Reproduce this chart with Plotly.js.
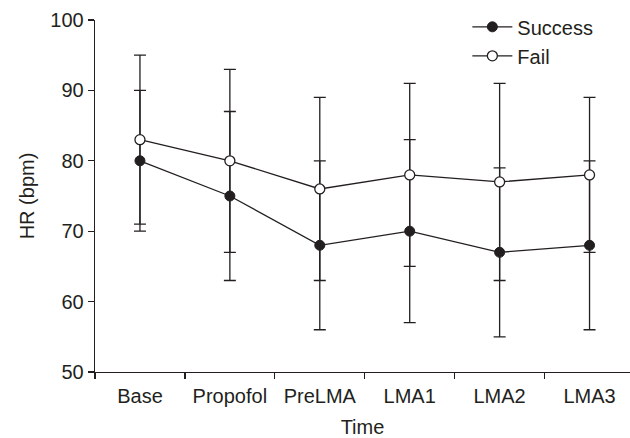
<!DOCTYPE html>
<html>
<head>
<meta charset="utf-8">
<script src="https://cdn.plot.ly/plotly-3.0.1.min.js"></script>
<style>html,body{margin:0;padding:0;background:#fff;}#chart{width:630px;height:438px;}</style>
</head>
<body>
<div id="chart"></div>
<script>
var categories = ["Base", "Propofol", "PreLMA", "LMA1", "LMA2", "LMA3"];
var successMean = [80, 75, 68, 70, 67, 68];
var successSD = [10, 12, 12, 13, 12, 12];
var failMean = [83, 80, 76, 78, 77, 78];
var failSD = [12, 13, 13, 13, 14, 11];
var yTicks = [50, 60, 70, 80, 90, 100];

var ink = "#231f20";
var fam = "Liberation Sans, Arial, sans-serif";
var font = {family: fam, size: 20, color: ink};

var traces = [
  {
    name: "Success", x: categories, y: successMean, type: "scatter", mode: "lines+markers",
    line: {color: ink, width: 1.3},
    marker: {color: ink, size: 10, line: {color: ink, width: 1}},
    error_y: {type: "data", array: successSD, visible: true, color: ink, thickness: 1.3, width: 6}
  },
  {
    name: "Fail", x: categories, y: failMean, type: "scatter", mode: "lines+markers",
    line: {color: ink, width: 1.3},
    marker: {color: "#ffffff", size: 10, line: {color: ink, width: 1.3}},
    error_y: {type: "data", array: failSD, visible: true, color: ink, thickness: 1.3, width: 6}
  }
];

var layout = {
  width: 630, height: 438,
  margin: {l: 95, r: 0, t: 20, b: 66},
  paper_bgcolor: "#fff", plot_bgcolor: "#fff",
  font: font,
  showlegend: true,
  legend: {x: 0.696, y: 1.036, xanchor: "left", yanchor: "top", bgcolor: "rgba(0,0,0,0)",
           font: font, tracegroupgap: 0, itemwidth: 40},
  xaxis: {
    type: "category", range: [-0.5, 5.45],
    showline: true, linecolor: ink, linewidth: 1.3,
    ticks: "outside", tickson: "boundaries", ticklen: 6, tickcolor: ink, tickwidth: 1.3,
    ticklabelstandoff: 6,
    showgrid: false, zeroline: false,
    tickfont: font,
    title: {text: "Time", font: font, standoff: 14}
  },
  yaxis: {
    range: [50, 100], tickvals: yTicks, ticktext: yTicks.map(String),
    showline: true, linecolor: ink, linewidth: 1.3,
    ticks: "outside", ticklen: 6, tickcolor: ink, tickwidth: 1.3,
    showgrid: false, zeroline: false,
    tickfont: font,
    title: {text: "HR (bpm)", font: font, standoff: 10}
  }
};

Plotly.newPlot("chart", traces, layout, {displayModeBar: false, staticPlot: true});
</script>
</body>
</html>
